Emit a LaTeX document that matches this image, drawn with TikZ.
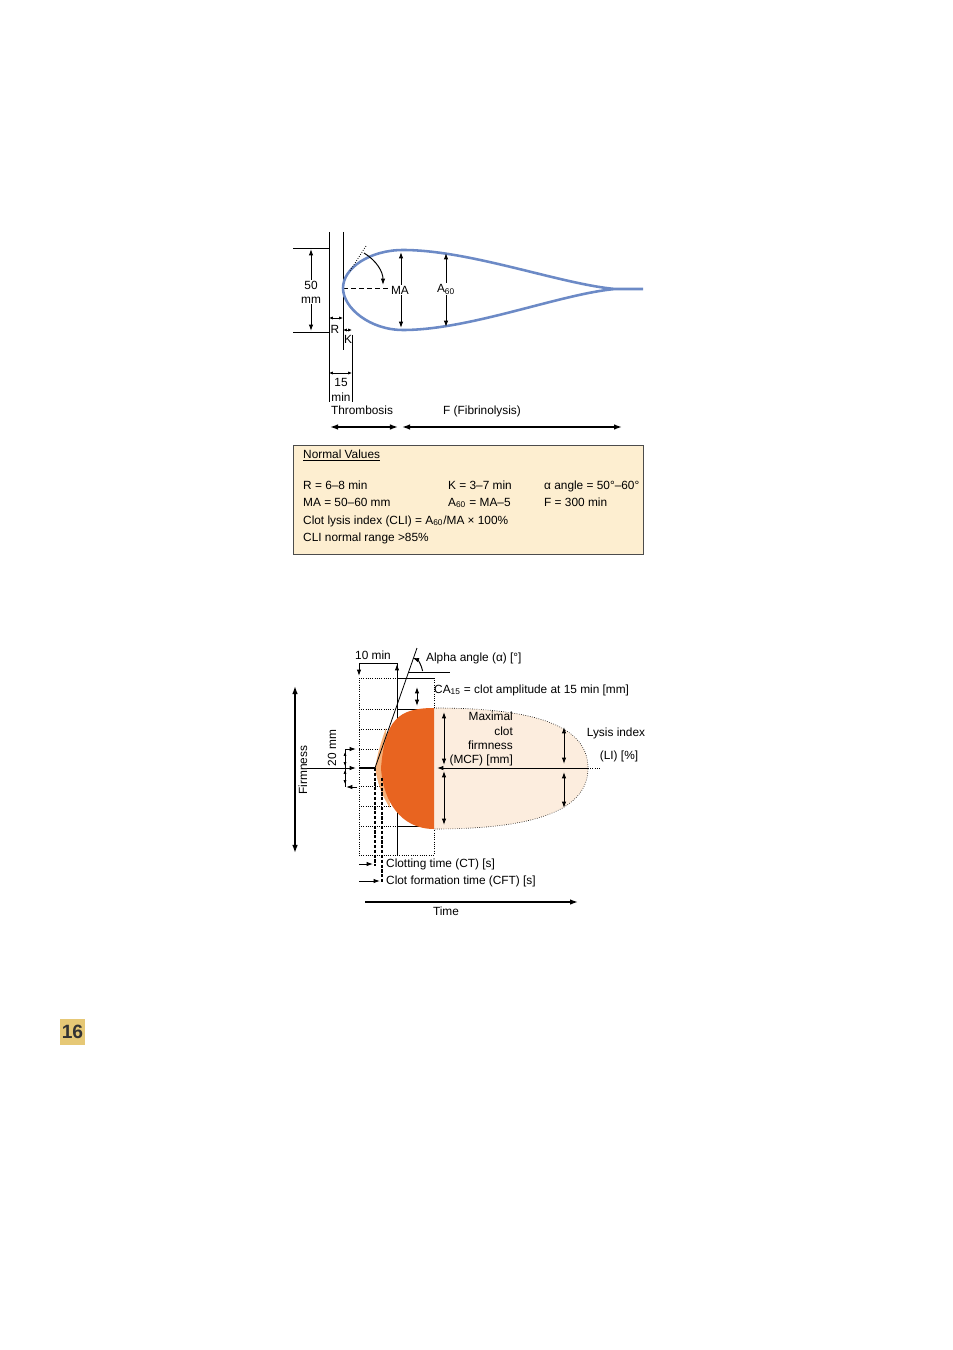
\documentclass[tikz,border=0pt]{standalone}
\usepackage{fontspec}
\setmainfont{Liberation Sans}
\usetikzlibrary{arrows.meta}

\definecolor{curveBlue}{RGB}{108,138,198}
\definecolor{boxFill}{RGB}{253,238,208}
\definecolor{clotOrange}{RGB}{232,100,32}
\definecolor{clotLight}{RGB}{246,176,120}
\definecolor{lysisFill}{RGB}{252,237,222}
\definecolor{badgeFill}{RGB}{230,200,118}

\def\px{0.6243pt}
\def\lblFont{\fontsize{7.4}{8.9}\selectfont}
\def\ctX{375}
\def\cftX{382}
\def\clotR{434}

\tikzset{
  lbl/.style={inner sep=0.5pt, font=\lblFont},
  dim/.style={{Latex[length=4pt,width=2.8pt]}-{Latex[length=4pt,width=2.8pt]}, line width=0.6pt},
  smalldim/.style={{Latex[length=2.4pt,width=2pt]}-{Latex[length=2.4pt,width=2pt]}, line width=0.5pt},
  tip/.style={-{Latex[length=4pt,width=2.8pt]}, line width=0.6pt},
  bigdim/.style={{Latex[length=5pt,width=3.5pt]}-{Latex[length=5pt,width=3.5pt]}, line width=0.9pt},
  gridline/.style={densely dotted, line width=0.4pt},
}

\begin{document}
\begin{tikzpicture}[x=\px, y=-\px, line width=0.5pt]
    \useasboundingbox (0,0) rectangle (953,1350);

    % thromboelastogram
    \draw (329,232) -- (329,402);
    \draw (343,232) -- (343,350);
    \draw (352,335) -- (352,402);
    \draw (293,248) -- (329,248);
    \draw (293,332) -- (329,332);
    \draw[dim] (311,249) -- (311,331);
    \node[lbl, fill=white, align=center] (fifty) at (311,292) {50\\mm};
    \draw[densely dashed] (343,288) -- (388,288);

    \draw[curveBlue, line width=1.6pt] (643,289) -- (615,289)
      .. controls (560,284) and (470,250) .. (403,250)
      .. controls (370,250) and (343,268) .. (343,288)
      .. controls (343,308) and (370,330) .. (403,330)
      .. controls (470,330) and (560,294) .. (615,289);

    \draw[densely dotted] (350,271) -- (366,246);
    \draw[tip] (364,253) .. controls (377,261) and (383,272) .. (383,285);

    \node[lbl, fill=white] (ma) at (400,290) {MA};
    \draw[tip] (ma.north -| 401,0) -- (401,252);
    \draw[tip] (ma.south -| 401,0) -- (401,328);
    \node[lbl, fill=white] (a60) at (446,289) {A\textsubscript{60}};
    \draw[tip] (a60.north) -- (446,253);
    \draw[tip] (a60.south) -- (446,327);

    \draw[smalldim] (329,318) -- (343,318);
    \node[lbl] (rLbl) at (335,329) {R};
    \draw[smalldim] (343,330) -- (352,330);
    \node[lbl] (kLbl) at (348,339) {K};
    \draw[smalldim] (329,373) -- (352,373);
    \node[lbl, align=center] (fifteen) at (341,390) {15\\min};

    \node[lbl] (thromb) at (362,410) {Thrombosis};
    \node[lbl] (fibrin) at (482,411) {F (Fibrinolysis)};
    \draw[bigdim] (330,427) -- (398,427);
    \draw[bigdim] (402,427) -- (622,427);

    % normal values
    \draw[draw=black!70, fill=boxFill, line width=0.6pt] (293,445) rectangle (643,554);
    \node[lbl, anchor=base west] (normal) at (302,458) {\underline{Normal Values}};
    \foreach \x/\y/\t [count=\n] in {302/489/{R = 6–8 min}, 447/489/{K = 3–7 min}, 543/489/{α angle = 50°–60°},
        302/506/{MA = 50–60 mm}, 447/506/{A\textsubscript{60} = MA–5}, 543/506/{F = 300 min},
        302/524/{Clot lysis index (CLI) = A\textsubscript{60}/MA × 100\%}, 302/541/{CLI normal range >85\%}} {
      \node[lbl, anchor=base west] (val\n) at (\x,\y) {\t};
    }

    % rotem trace
    \foreach \y in {729,749,786,806} {
      \draw[gridline] (359,\y) -- (\clotR,\y);
    }
    \foreach \y in {678,709,826} {
      \draw[gridline] (359,\y) -- (397,\y);
      \draw (397,\y) -- (\clotR,\y);
    }
    \draw[gridline] (359,855) -- (\clotR,855);
    \draw[gridline] (359,678) -- (359,855);
    \draw[gridline] (\clotR,678) -- (\clotR,855);
    \draw (397,663) -- (397,855);

    \draw[gridline, fill=lysisFill] (\clotR,708) .. controls (525,708) and (588,722) .. (588,768)
      .. controls (588,814) and (525,829) .. (\clotR,829);
    \fill[clotLight] (\ctX,768) .. controls (378,752) and (381,742) .. (386,728) -- (390,808)
      .. controls (381,794) and (378,784) .. (\ctX,768) -- cycle;
    \fill[clotOrange] (381,768) .. controls (385,720) and (398,708) .. (\clotR,708) -- (\clotR,829)
      .. controls (400,829) and (383,800) .. (381,768) -- cycle;

    \draw[line width=1.2pt] (359,768) -- (\ctX,768);
    \draw (\ctX,768) -- (417,648);
    \draw[line width=0.4pt] (408,672) -- (450,672);
    \draw[tip] (422.6,671) .. controls (421.5,665) and (418,660) .. (412.6,657.8);
    \node[lbl, anchor=west] (alpha) at (425,658) {Alpha angle (α) [°]};

    \draw[tip] (397,663) -- (359,663) -- (359,676);
    \draw[tip] (397,676) -- (397,664);
    \node[lbl] (tenMin) at (373,655) {10 min};

    \draw[dim] (417,687) -- (417,706);
    \node[lbl, anchor=west] (ca15) at (433,690) {CA\textsubscript{15} = clot amplitude at 15 min [mm]};

    \draw[tip] (588,768) -- (437,768);
    \draw[gridline] (588,768) -- (600,768);
    \draw[dim] (444,712) -- (444,765);
    \draw[dim] (444,771) -- (444,825);
    \draw[dim] (564,727) -- (564,764);
    \draw[dim] (564,772) -- (564,808);
    \node[lbl, align=right, anchor=north east] (mcf) at (514,711) {Maximal\\clot\\firmness\\(MCF) [mm]};
    \node[lbl] (lysis) at (616,733) {Lysis index};
    \node[lbl] (li) at (619,756) {(LI) [\%]};

    \draw[bigdim] (295,686) -- (295,853);
    \node[lbl, rotate=90] (firm) at (303,770) {Firmness};
    \node[lbl, rotate=90] (twenty) at (332,748) {20 mm};
    \draw[tip] (307,768) -- (356,768);
    \draw[tip] (345,749) -- (356,749);
    \draw (345,749) -- (345,787);
    \draw[smalldim] (345,752) -- (345,766);
    \draw[smalldim] (345,770) -- (345,784);
    \draw[tip] (357,787) -- (346,787);

    \draw[line width=1pt, dash pattern=on 2pt off 1pt] (\ctX,768) -- (\ctX,866);
    \draw[line width=1pt, dash pattern=on 2pt off 1pt] (\cftX,778) -- (\cftX,883);
    \draw[tip] (359,864) -- (373,864);
    \node[lbl, anchor=west] (ct) at (385,864) {Clotting time (CT) [s]};
    \draw[tip] (359,881) -- (380,881);
    \node[lbl, anchor=west] (cft) at (385,881) {Clot formation time (CFT) [s]};
    \draw[-{Latex[length=5pt,width=3.5pt]}, line width=0.9pt] (365,902) -- (578,902);
    \node[lbl] (time) at (446,911) {Time};

    % page number
    \fill[badgeFill] (60,1019) rectangle (85,1045);
    \node[font=\fontsize{12}{12}\selectfont\bfseries, text=black!80] (badge) at (72.5,1032) {16};
  \end{tikzpicture}
\end{document}
